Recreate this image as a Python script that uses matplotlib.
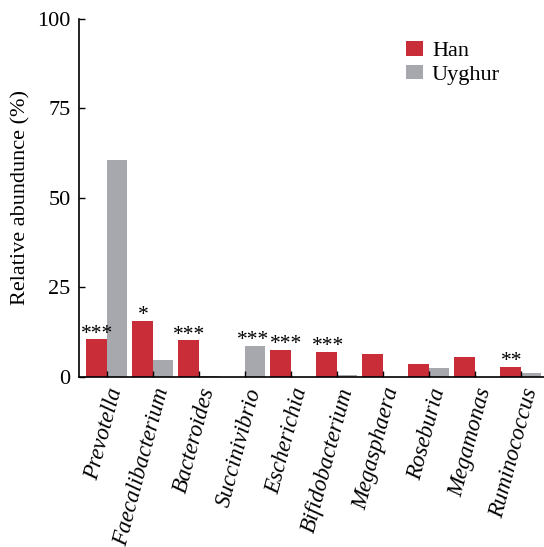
import matplotlib
matplotlib.use("Agg")
import matplotlib.pyplot as plt
import numpy as np

genera = ["Prevotella", "Faecalibacterium", "Bacteroides", "Succinivibrio",
          "Escherichia", "Bifidobacterium", "Megasphaera", "Roseburia",
          "Megamonas", "Ruminococcus"]
han = [10.5, 15.6, 10.2, 0.0, 7.5, 6.9, 6.3, 3.6, 5.5, 2.8]
uyghur = [60.6, 4.7, 0.4, 8.7, 0.0, 0.6, 0.0, 2.4, 0.0, 1.2]
# significance marks: (genus index, group, label)
signif = [(0, "Han", "***"), (1, "Han", "*"), (2, "Han", "***"),
          (3, "Uyghur", "***"), (4, "Han", "***"), (5, "Han", "***"),
          (9, "Han", "**")]
yticks = [0, 25, 50, 75, 100]

plt.rcParams["font.family"] = ["Liberation Serif", "DejaVu Serif"]

RED = "#C92E38"
GRAY = "#A6A8AD"

fig = plt.figure(figsize=(5.44, 5.47), dpi=100)
ax = fig.add_axes([0.1452, 0.3108, 0.8548, 0.6545])

x = np.arange(len(genera))
w = 0.445
ax.bar(x - w / 2, han, w, color=RED, label="Han")
ax.bar(x + w / 2, uyghur, w, color=GRAY, label="Uyghur")

# small horizontal nudges (points) so neighbouring marks don't collide
nudge = {3: -2.0, 4: 3.5}
vals = {"Han": han, "Uyghur": uyghur}
for i, grp, lab in signif:
    xi = x[i] - w / 2 if grp == "Han" else x[i] + w / 2
    ax.annotate(lab, (xi, vals[grp][i]), xytext=(0.8 + nudge.get(i, 0), -3),
                textcoords="offset points", ha="center", va="bottom",
                fontsize=15.5)

ax.set_xlim(-0.6, 9.5)
ax.set_ylim(0, 100)
ax.set_yticks(yticks)
ax.set_yticklabels([str(t) for t in yticks], fontsize=16)
ax.set_xticks(x)
ax.set_xticklabels(genera, rotation=75, ha="right", rotation_mode="anchor",
                   fontsize=16.5, style="italic")
ax.tick_params(axis="both", direction="in", length=4, width=1, colors="black")
ax.tick_params(axis="y", pad=6)
ax.tick_params(axis="x", pad=6)
for s in ["top", "right"]:
    ax.spines[s].set_visible(False)
for s in ["left", "bottom"]:
    ax.spines[s].set_linewidth(1.2)

ax.set_ylabel("Relative abundunce (%)", fontsize=16, labelpad=5)

ax.legend(loc="upper left", bbox_to_anchor=(0.685, 0.962), frameon=False,
          fontsize=16, handlelength=0.75, handleheight=0.6, handletextpad=0.4,
          labelspacing=0.15, borderaxespad=0)

fig.savefig("out.png", dpi=100)
